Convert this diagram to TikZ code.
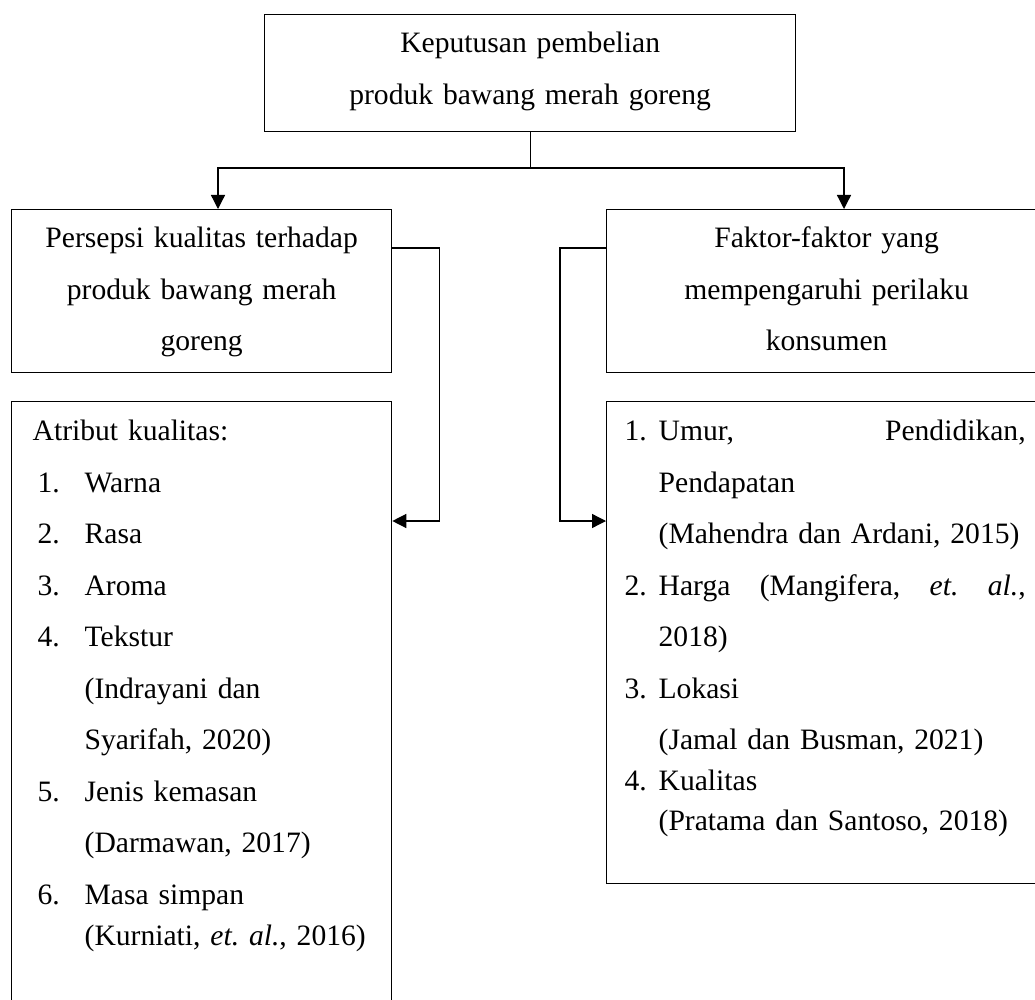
\documentclass[tikz,border=0pt]{standalone}
\usepackage{fontspec}
\setmainfont{Liberation Serif}
\usetikzlibrary{arrows.meta,positioning}
\newcommand{\nomor}[2][47pt]{\makebox[#1][l]{#2}}

\begin{document}
\frenchspacing
\begin{tikzpicture}[
  x=1pt, y=-1pt,
  box/.style={draw, line width=1.3pt, anchor=north west, inner ysep=0pt,
              font=\fontsize{29.6pt}{51.5pt}\selectfont},
  arr/.style={-{Triangle[length=14pt,width=14pt]}, line width=1.3pt}
]
\useasboundingbox (0,0) rectangle (1035,1000);
% ── Top box ──────────────────────────────────────────────────────────────────
\node[box, text width=531pt, inner xsep=0pt, align=center,
      text height=38pt, text depth=79pt] (keputusan) at (264,14)
  {Keputusan pembelian\\produk bawang merah goreng};

% ── Second row ───────────────────────────────────────────────────────────────
\node[box, text width=380pt, inner xsep=0pt, align=center,
      text height=38pt, text depth=125pt] (persepsi) at (11,209)
  {Persepsi kualitas terhadap\\produk bawang merah\\goreng};
\node[box, text width=440pt, inner xsep=0pt, align=center,
      text height=38pt, text depth=125pt] (faktor) at (606,209)
  {Faktor-faktor yang\\mempengaruhi perilaku\\konsumen};

% ── Lists ────────────────────────────────────────────────────────────────────
\node[box, text width=338pt, inner xsep=21pt, align=left,
      text height=39pt, text depth=565pt] (atribut) at (11,401)
  {Atribut kualitas:\\
   \hspace*{5pt}\nomor{1.}Warna\\
   \hspace*{5pt}\nomor{2.}Rasa\\
   \hspace*{5pt}\nomor{3.}Aroma\\
   \hspace*{5pt}\nomor{4.}Tekstur\\
   \hspace*{52pt}(Indrayani dan\\
   \hspace*{52pt}Syarifah, 2020)\\
   \hspace*{5pt}\nomor{5.}Jenis kemasan\\
   \hspace*{52pt}(Darmawan, 2017)\\
   \hspace*{5pt}\nomor{6.}Masa simpan\\[-10pt]
   \hspace*{52pt}\mbox{(Kurniati, \textit{et. al.}, 2016)}};
\node[box, text width=401pt, inner xsep=18pt, align=left,
      text height=39pt, text depth=443pt] (indikator) at (606,401)
  {\nomor[34pt]{1.}Umur,\hfill Pendidikan,\\
   \hspace*{34pt}Pendapatan\\
   \hspace*{34pt}\mbox{(Mahendra dan Ardani, 2015)}\\
   \nomor[34pt]{2.}Harga\hfill(Mangifera,\hfill\textit{et.}\hfill\textit{al.},\\
   \hspace*{34pt}2018)\\
   \nomor[34pt]{3.}Lokasi\\
   \hspace*{34pt}(Jamal dan Busman, 2021)\\[-11pt]
   \nomor[34pt]{4.}Kualitas\\[-11pt]
   \hspace*{34pt}\mbox{(Pratama dan Santoso, 2018)}};

% ── Branch coordinates ───────────────────────────────────────────────────────
\coordinate (kiri)  at (218,168);
\coordinate (kanan) at (844,168);

% ── Arrows: top to second row ────────────────────────────────────────────────
\draw[arr] (keputusan.south) |- (kiri) -- (kiri |- persepsi.north);
\draw[arr] (keputusan.south) |- (kanan) -- (kanan |- faktor.north);

% ── Arrows: second row to lists ──────────────────────────────────────────────
\draw[arr] ([yshift=-39pt]persepsi.north east) -- ++(47,0)
  |- ([yshift=-120pt]atribut.north east);
\draw[arr] ([yshift=-39pt]faktor.north west) -- ++(-46,0)
  |- ([yshift=-120pt]indikator.north west);
\end{tikzpicture}
\end{document}
